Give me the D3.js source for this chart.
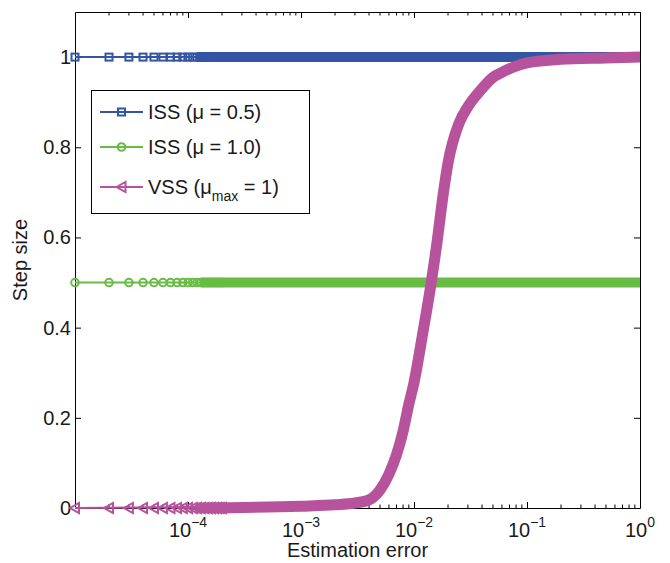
<!DOCTYPE html>
<html>
<head>
<meta charset="utf-8">
<script src="https://cdn.jsdelivr.net/npm/d3@7"></script>
<style>
  body { margin: 0; background: #fff; }
  svg text { font-family: "Liberation Sans", Arial, Helvetica, sans-serif; fill: #1a1a1a; }
</style>
</head>
<body>
<div id="chart"></div>
<script>
// step size vs estimation error (log x)

// tick labels
const errTicks = [1e-4, 1e-3, 1e-2, 1e-1, 1];
const errTickExp = ["\u22124", "\u22123", "\u22122", "\u22121", "0"];
const stepTicks = [0, 0.2, 0.4, 0.6, 0.8, 1];
const stepTickLabels = ["0", "0.2", "0.4", "0.6", "0.8", "1"];

// series names (legend order)
const seriesNames = ["ISS (\u03bc = 0.5)", "ISS (\u03bc = 1.0)", "VSS"];

// the constant step-size curves
const issErr = [1e-5, 1];
const issHalfStep = [1, 1];
const issOneStep = [0.5, 0.5];

// variable step size
const vssErr = [1e-5, 1e-4, 1e-3, 2e-3, 3e-3, 4e-3, 5e-3, 6e-3, 7e-3, 8e-3, 9e-3,
  0.01, 0.012, 0.014, 0.016, 0.018, 0.02, 0.025, 0.03, 0.04, 0.05, 0.06, 0.08,
  0.1, 0.2, 0.5, 1];
const vssStep = [0, 0.002, 0.004, 0.007, 0.011, 0.018, 0.04, 0.075, 0.118, 0.17, 0.23,
  0.278, 0.39, 0.49, 0.59, 0.69, 0.765, 0.853, 0.89, 0.93, 0.955, 0.966, 0.98,
  0.987, 0.995, 0.998, 1];

// the first data points, where markers are still apart
const markerErr = [1e-5, 2e-5, 3e-5, 4e-5, 5e-5, 6e-5, 7e-5, 8e-5, 9e-5, 1e-4,
  1.1e-4, 1.2e-4, 1.3e-4, 1.4e-4, 1.5e-4, 1.6e-4, 1.7e-4, 1.8e-4, 1.9e-4, 2e-4];
const markerIssHalf = [1];
const markerIssOne = [0.5];
const markerVss = [0];

const colors = ["#3455a4", "#68bc45", "#b7539c"];

var width = 670, height = 563;
var mLeft = 75, mRight = 640, mTop = 12, mBottom = 508;

var svg = d3.select("#chart").append("svg")
  .attr("width", width)
  .attr("height", height);

var x = d3.scaleLog().domain([1e-5, 1]).range([mLeft, mRight]);
var y = d3.scaleLinear().domain([0, 1.1]).range([mBottom, mTop]);

// axes box with inward ticks
var minorTicks = x.ticks().filter(function (t) { return errTicks.indexOf(t) < 0 && t > 1e-5; });

function xAxis(g, axis, dir) {
  g.call(axis.tickValues(errTicks).tickSizeInner(-6).tickSizeOuter(0).tickFormat(""));
  g.selectAll("line.minor").data(minorTicks).enter().append("line")
    .attr("class", "minor")
    .attr("x1", d => x(d)).attr("x2", d => x(d))
    .attr("y1", 0).attr("y2", dir * 3.5)
    .attr("stroke", "#000");
}

svg.append("g").attr("transform", "translate(0," + mBottom + ")").call(xAxis, d3.axisBottom(x), -1);
svg.append("g").attr("transform", "translate(0," + mTop + ")").call(xAxis, d3.axisTop(x), 1);

svg.append("g").attr("transform", "translate(" + mLeft + ",0)")
  .call(d3.axisLeft(y).tickValues(stepTicks).tickSizeInner(-6).tickSizeOuter(0).tickFormat(""));
svg.append("g").attr("transform", "translate(" + mRight + ",0)")
  .call(d3.axisRight(y).tickValues(stepTicks).tickSizeInner(-6).tickSizeOuter(0).tickFormat(""));
svg.selectAll(".domain").attr("stroke", "#000").attr("stroke-width", 1);
svg.selectAll(".tick line").attr("stroke", "#000");

// tick labels
svg.append("g").selectAll("text").data(stepTicks).enter().append("text")
  .attr("x", mLeft - 4)
  .attr("y", d => y(d) + 7)
  .attr("text-anchor", "end")
  .style("font-size", "20px")
  .text((d, i) => stepTickLabels[i]);

var xl = svg.append("g").selectAll("text").data(errTicks).enter().append("text")
  .attr("x", d => x(d))
  .attr("y", 537)
  .attr("text-anchor", "middle")
  .style("font-size", "20px");
xl.append("tspan").text("10");
xl.append("tspan").attr("dy", -10).style("font-size", "14px").text((d, i) => errTickExp[i]);

svg.append("text")
  .attr("x", (mLeft + mRight) / 2).attr("y", 557)
  .attr("text-anchor", "middle")
  .style("font-size", "20px")
  .text("Estimation error");

svg.append("text")
  .attr("transform", "translate(27," + (mTop + mBottom) / 2 + ") rotate(-90)")
  .attr("text-anchor", "middle")
  .style("font-size", "20px")
  .text("Step size");

// markers
function marker(sel, kind, color) {
  if (kind === "square") {
    sel.append("rect").attr("x", -3.5).attr("y", -3.5).attr("width", 7).attr("height", 7)
      .attr("fill", "none").attr("stroke", color).attr("stroke-width", 2);
  } else if (kind === "circle") {
    sel.append("circle").attr("r", 3.8)
      .attr("fill", "none").attr("stroke", color).attr("stroke-width", 2);
  } else {
    sel.append("path").attr("d", "M-5,0L4,-5L4,5Z")
      .attr("fill", "none").attr("stroke", color).attr("stroke-width", 2);
  }
}

var line = d3.line()
  .x(d => x(d[0]))
  .y(d => y(d[1]))
  .curve(d3.curveMonotoneX);

var series = [
  { pts: d3.zip(issErr, issHalfStep), mk: markerIssHalf[0], kind: "square", bandFrom: 1.2e-4 },
  { pts: d3.zip(issErr, issOneStep), mk: markerIssOne[0], kind: "circle", bandFrom: 1.3e-4 },
  { pts: d3.zip(vssErr, vssStep), mk: markerVss[0], kind: "tri", bandFrom: 1.2e-4 }
];

series.forEach(function (s, i) {
  var g = svg.append("g");
  // thin line through all points
  g.append("path").attr("d", line(s.pts))
    .attr("fill", "none").attr("stroke", colors[i]).attr("stroke-width", 2);
  // where markers pile up they form a solid band
  var band = s.pts.filter(p => p[0] >= s.bandFrom);
  if (band[0][0] > s.bandFrom) band.unshift([s.bandFrom, s.pts[0][1]]);
  g.append("path").attr("d", line(band))
    .attr("fill", "none").attr("stroke", colors[i])
    .attr("stroke-width", i === 2 ? 11 : 10);
  g.selectAll("g.mk").data(markerErr).enter().append("g")
    .attr("transform", d => "translate(" + x(d) + "," + y(s.mk) + ")")
    .each(function () { marker(d3.select(this), s.kind, colors[i]); });
});

// legend
var lg = svg.append("g");
lg.append("rect").attr("x", 91.5).attr("y", 90.5).attr("width", 218).attr("height", 123)
  .attr("fill", "#fff").attr("stroke", "#000").attr("stroke-width", 1);
var rowY = [112, 147, 187];
["square", "circle", "tri"].forEach(function (kind, i) {
  lg.append("line").attr("x1", 100).attr("x2", 143).attr("y1", rowY[i]).attr("y2", rowY[i])
    .attr("stroke", colors[i]).attr("stroke-width", 2);
  var m = lg.append("g").attr("transform", "translate(121.5," + rowY[i] + ")");
  marker(m, kind, colors[i]);
  var t = lg.append("text").attr("x", 148).attr("y", rowY[i] + 7).style("font-size", "20px");
  if (i < 2) {
    t.text(seriesNames[i]);
  } else {
    t.append("tspan").text(seriesNames[i] + " (\u03bc");
    t.append("tspan").attr("dy", 7).style("font-size", "14px").text("max");
    t.append("tspan").attr("dy", -7).text(" = 1)");
  }
});
</script>
</body>
</html>
